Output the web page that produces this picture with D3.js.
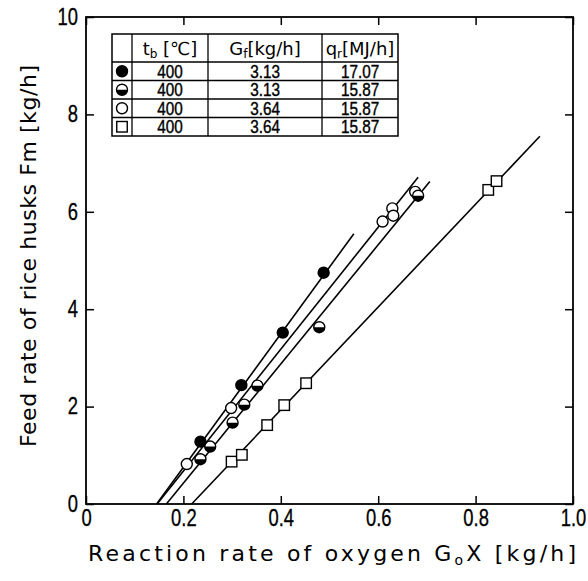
<!DOCTYPE html>
<html><head><meta charset="utf-8">
<script src="https://cdn.jsdelivr.net/npm/d3@7"></script>
<style>body{margin:0;background:#fff}</style>
</head><body>
<svg id="chart" width="588" height="581"></svg>
<script>
// ---- data ----
const xTicks = [0, 0.2, 0.4, 0.6, 0.8, 1.0];
const xTickLabels = ["0", "0.2", "0.4", "0.6", "0.8", "1.0"];
const yTicks = [0, 2, 4, 6, 8, 10];
const yTickLabels = ["0", "2", "4", "6", "8", "10"];

const filledPts = [[0.235,1.28],[0.319,2.44],[0.404,3.52],[0.488,4.75]];
const halfPts = [[0.235,0.92],[0.255,1.18],[0.301,1.67],[0.325,2.04],[0.352,2.43],[0.479,3.63],[0.682,6.33]];
const openPts = [[0.207,0.82],[0.298,1.97],[0.609,5.80],[0.629,6.07],[0.631,5.92],[0.676,6.41]];
const squarePts = [[0.299,0.87],[0.320,1.01],[0.372,1.62],[0.407,2.03],[0.452,2.48],[0.826,6.45],[0.843,6.63]];

// fitted lines: [x1,y1,x2,y2]
const filledLine = [0.145,0,0.55,5.55];
const openLine = [0.146,0,0.682,6.71];
const halfLine = [0.165,0,0.706,6.62];
const squareLine = [0.217,0,0.932,7.55];

const tableSymbols = ["filled","half","open","square"];
const tableTb = ["400","400","400","400"];
const tableGf = ["3.13","3.13","3.64","3.64"];
const tableQr = ["17.07","15.87","15.87","15.87"];

// ---- drawing ----
const svg = d3.select("#chart");
const x = d3.scaleLinear().domain([0,1]).range([86,573]);
const y = d3.scaleLinear().domain([0,10]).range([504,17]);
const tickFont = "'Liberation Sans',Arial,sans-serif";
const titleFont = "'DejaVu Sans','Liberation Sans',sans-serif";

// frame
svg.append("rect").attr("x",x(0)).attr("y",y(10)).attr("width",x(1)-x(0)).attr("height",y(0)-y(10))
  .attr("fill","none").attr("stroke","#000").attr("stroke-width",1.8);

function styleAxis(g, showLabels){
  g.select(".domain").remove();
  g.selectAll(".tick line").attr("stroke","#000").attr("stroke-width",1.5);
  g.selectAll(".tick text").attr("font-family",tickFont).attr("font-size",23).attr("fill","#000")
    .attr("stroke","#000").attr("stroke-width",0.3)
    .attr("transform","scale(0.8,1)");
  if(!showLabels) g.selectAll(".tick text").remove();
}
const gx = svg.append("g").attr("transform",`translate(0,${y(0)})`)
  .call(d3.axisBottom(x).tickValues(xTicks).tickFormat((d,i)=>xTickLabels[i]).tickSize(-8).tickPadding(6));
styleAxis(gx,true);
const gxt = svg.append("g").attr("transform",`translate(0,${y(10)})`)
  .call(d3.axisTop(x).tickValues(xTicks).tickSize(-8));
styleAxis(gxt,false);
const gy = svg.append("g").attr("transform",`translate(${x(0)},0)`)
  .call(d3.axisLeft(y).tickValues(yTicks).tickFormat((d,i)=>yTickLabels[i]).tickSize(-8).tickPadding(10));
styleAxis(gy,true);
const gyr = svg.append("g").attr("transform",`translate(${x(1)},0)`)
  .call(d3.axisRight(y).tickValues(yTicks).tickSize(-8));
styleAxis(gyr,false);

// fit lines
[filledLine, openLine, halfLine, squareLine].forEach(l=>{
  svg.append("line").attr("x1",x(l[0])).attr("y1",y(l[1])).attr("x2",x(l[2])).attr("y2",y(l[3]))
    .attr("stroke","#000").attr("stroke-width",1.6);
});

// markers
const R = 5.5, S = 10.5;
function drawMarker(g, type, cx, cy){
  if(type==="filled"){
    g.append("circle").attr("cx",cx).attr("cy",cy).attr("r",R).attr("fill","#000").attr("stroke","#000").attr("stroke-width",1.4);
  } else if(type==="open"){
    g.append("circle").attr("cx",cx).attr("cy",cy).attr("r",R).attr("fill","#fff").attr("stroke","#000").attr("stroke-width",1.4);
  } else if(type==="half"){
    g.append("circle").attr("cx",cx).attr("cy",cy).attr("r",R).attr("fill","#fff").attr("stroke","#000").attr("stroke-width",1.4);
    g.append("path").attr("d",`M${cx-R},${cy} A${R},${R} 0 0 0 ${cx+R},${cy} Z`).attr("fill","#000");
  } else {
    g.append("rect").attr("x",cx-S/2).attr("y",cy-S/2).attr("width",S).attr("height",S)
      .attr("fill","#fff").attr("stroke","#000").attr("stroke-width",1.4);
  }
}
const mg = svg.append("g");
squarePts.forEach(p=>drawMarker(mg,"square",x(p[0]),y(p[1])));
openPts.forEach(p=>drawMarker(mg,"open",x(p[0]),y(p[1])));
halfPts.forEach(p=>drawMarker(mg,"half",x(p[0]),y(p[1])));
filledPts.forEach(p=>drawMarker(mg,"filled",x(p[0]),y(p[1])));

// axis titles
const xt = svg.append("text").attr("x",332).attr("y",561).attr("text-anchor","middle")
  .attr("font-family",titleFont).attr("font-size",22).attr("fill","#000")
  .attr("textLength",488).attr("lengthAdjust","spacing");
xt.append("tspan").text("Reaction rate of oxygen G");
xt.append("tspan").attr("font-size",14).attr("dy",4).text("o");
xt.append("tspan").attr("dy",-4).text("X [kg/h]");

const yt = svg.append("text").attr("transform","translate(36,256) rotate(-90)").attr("text-anchor","middle")
  .attr("font-family",titleFont).attr("font-size",22).attr("fill","#000")
  .attr("textLength",382).attr("lengthAdjust","spacing")
  .text("Feed rate of rice husks Fm [kg/h]");

// table
const tb = svg.append("g");
const colX = [112,132,208,322,398];
const rowY = [34,62,80.5,99,117.5,136];
tb.append("rect").attr("x",colX[0]).attr("y",rowY[0]).attr("width",colX[4]-colX[0]).attr("height",rowY[5]-rowY[0])
  .attr("fill","#fff").attr("stroke","#000").attr("stroke-width",1.5);
colX.slice(1,4).forEach(cx=>tb.append("line").attr("x1",cx).attr("x2",cx).attr("y1",rowY[0]).attr("y2",rowY[5]).attr("stroke","#000").attr("stroke-width",1.3));
rowY.slice(1,5).forEach(ry=>tb.append("line").attr("x1",colX[0]).attr("x2",colX[4]).attr("y1",ry).attr("y2",ry).attr("stroke","#000").attr("stroke-width",1.3));

function headerText(cx, main, sub, rest){
  const t = tb.append("text").attr("x",cx).attr("y",55).attr("text-anchor","middle")
    .attr("font-family",titleFont).attr("font-size",18).attr("fill","#000");
  t.append("tspan").text(main);
  t.append("tspan").attr("font-size",12).attr("dy",3).text(sub);
  t.append("tspan").attr("dy",-3).text(rest);
}
headerText((colX[1]+colX[2])/2,"t","b"," [℃]");
headerText((colX[2]+colX[3])/2,"G","f","[kg/h]");
headerText((colX[3]+colX[4])/2,"q","r","[MJ/h]");

tableSymbols.forEach((s,i)=>{
  const cy = (rowY[i+1]+rowY[i+2])/2;
  drawMarker(tb, s, (colX[0]+colX[1])/2, cy);
  [tableTb[i],tableGf[i],tableQr[i]].forEach((v,j)=>{
    tb.append("text").attr("transform",`translate(${(colX[j+1]+colX[j+2])/2},${cy+6.5}) scale(0.85,1)`)
      .attr("text-anchor","middle")
      .attr("font-family",tickFont).attr("font-size",18).attr("stroke","#000").attr("stroke-width",0.4)
      .attr("fill","#000").text(v);
  });
});
</script>
</body></html>
